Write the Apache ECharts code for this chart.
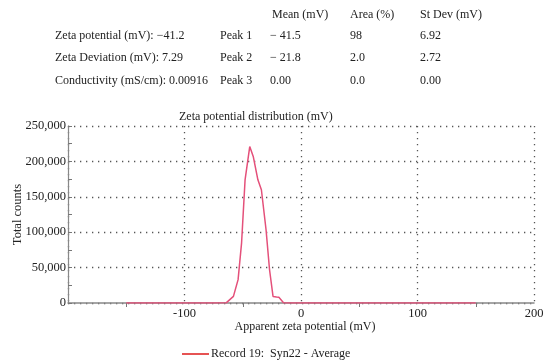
<!DOCTYPE html>
<html><head><meta charset="utf-8">
<script src="https://cdn.jsdelivr.net/npm/echarts@6/dist/echarts.min.js"></script>
<style>html,body{margin:0;padding:0;background:#fff}#c{width:550px;height:363px}</style>
</head><body><div id="c"></div>
<script>
// Data
const zetaMv = [-150, -130, -110, -90, -75, -64, -58, -54, -51, -48, -44, -41, -37, -34, -30, -27, -24, -21, -19, -15, -10, 0, 30, 60, 90, 120, 150];
const totalCounts = [0, 0, 0, 0, 0, 500, 9300, 33000, 85000, 174000, 221000, 207000, 174000, 160000, 103500, 47000, 9300, 8500, 8000, 500, 0, 0, 0, 0, 0, 0, 0];
const xTicks = [-100, 0, 100, 200];
const yTicks = [0, 50000, 100000, 150000, 200000, 250000];
const tableHeader = ['Mean (mV)', 'Area (%)', 'St Dev (mV)'];
const tableLeft = ['Zeta potential (mV): \u221241.2', 'Zeta Deviation (mV): 7.29', 'Conductivity (mS/cm): 0.00916'];
const peakNames = ['Peak 1', 'Peak 2', 'Peak 3'];
const peakMean = ['\u2212 41.5', '\u2212 21.8', '0.00'];
const peakArea = ['98', '2.0', '0.0'];
const peakStDev = ['6.92', '2.72', '0.00'];
const seriesName = 'Record 19:  Syn22 - Average';

const FONT = '"Liberation Serif", "DejaVu Serif", serif';
const txt = (x, y, s) => ({type: 'text', left: x, top: y, style: {text: s, font: '12px ' + FONT, fill: '#222'}});
const graphics = [];
const colX = [272, 350, 420];
tableHeader.forEach((h, i) => graphics.push(txt(colX[i], 9, h)));
const rowY = [30, 52, 75];
for (let r = 0; r < 3; r++) {
  graphics.push(txt(55, rowY[r], tableLeft[r]));
  graphics.push(txt(220, rowY[r], peakNames[r]));
  graphics.push(txt(270, rowY[r], peakMean[r]));
  graphics.push(txt(350, rowY[r], peakArea[r]));
  graphics.push(txt(420, rowY[r], peakStDev[r]));
}

const chart = echarts.init(document.getElementById('c'));
const dotted = {color: '#555', width: 1.3, type: [1.3, 4.7]};
chart.setOption({
  animation: false,
  textStyle: {fontFamily: FONT},
  title: {text: 'Zeta potential distribution (mV)', left: 179, top: 111, padding: 0, textStyle: {fontFamily: FONT, fontSize: 12, fontWeight: 'normal', color: '#222'}},
  graphic: graphics,
  legend: {data: [seriesName], left: 182, top: 348, itemWidth: 27, itemHeight: 1.6, itemGap: 3, padding: 0,
    icon: 'rect', itemStyle: {color: '#e02828'},
    textStyle: {fontFamily: FONT, fontSize: 12, color: '#222', padding: [0, 0, 0, -3]}},
  grid: {left: 68, right: 16, top: 126, bottom: 60, containLabel: false, outerBoundsMode: 'none'},
  xAxis: {
    type: 'value', min: -200, max: 200, interval: 100,
    name: 'Apparent zeta potential (mV)', nameLocation: 'middle', nameGap: 16,
    nameTextStyle: {fontFamily: FONT, fontSize: 12, color: '#222', padding: [0, 0, 0, 8]},
    axisLine: {show: true, onZero: false, lineStyle: {color: '#888', width: 1.5}},
    axisTick: {show: false},
    minorTick: {show: true, splitNumber: 2, length: 4, lineStyle: {color: '#777'}},
    axisLabel: {fontFamily: FONT, fontSize: 12.5, color: '#222', margin: 4,
      formatter: v => xTicks.includes(v) ? String(v) : ''},
    splitLine: {show: true, lineStyle: dotted}
  },
  yAxis: {
    type: 'value', min: 0, max: 250000, interval: 50000,
    name: 'Total counts', nameLocation: 'middle', nameGap: 44, nameRotate: 90, nameMoveOverlap: false,
    nameTextStyle: {fontFamily: FONT, fontSize: 12.5, color: '#222'},
    axisLine: {show: true, onZero: false, lineStyle: {color: '#888', width: 1.2}},
    axisTick: {show: true, inside: true, length: 4, lineStyle: {color: '#777'}},
    minorTick: {show: true, splitNumber: 2, length: 4, lineStyle: {color: '#777'}},
    axisLabel: {fontFamily: FONT, fontSize: 12.5, color: '#222', margin: 2,
      formatter: v => yTicks.includes(v) ? v.toLocaleString('en-US') : ''},
    splitLine: {show: true, lineStyle: dotted}
  },
  series: [{
    name: seriesName, type: 'line', data: zetaMv.map((x, i) => [x, totalCounts[i]]),
    showSymbol: false, smooth: false,
    lineStyle: {color: '#e4507a', width: 1.5}, itemStyle: {color: '#e02828'}
  }]
});
</script></body></html>
